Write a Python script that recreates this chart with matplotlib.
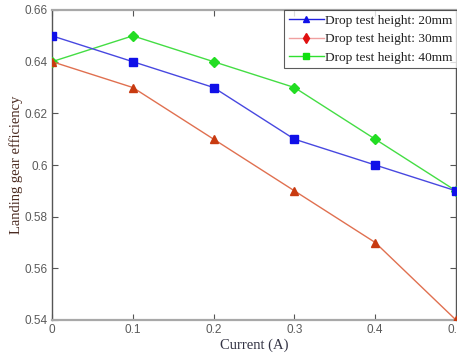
import matplotlib
matplotlib.use("Agg")
import matplotlib.pyplot as plt
from matplotlib.lines import Line2D

current = [0, 0.1, 0.2, 0.3, 0.4, 0.5]
eff_20mm = [0.65, 0.64, 0.63, 0.61, 0.60, 0.59]
eff_30mm = [0.64, 0.63, 0.61, 0.59, 0.57, 0.54]
eff_40mm = [0.64, 0.65, 0.64, 0.63, 0.61, 0.59]
labels = ["Drop test height: 20mm", "Drop test height: 30mm", "Drop test height: 40mm"]
xticks = [0, 0.1, 0.2, 0.3, 0.4, 0.5]
yticks = [0.54, 0.56, 0.58, 0.6, 0.62, 0.64, 0.66]

fig = plt.figure(figsize=(4.57, 3.57), dpi=100)
ax = fig.add_axes([52/457, 37/357, (456-52)/457, (320-10)/357])

ax.plot(current, eff_40mm, color="#44dd44", lw=1.0, marker="D", ms=5,
        mfc="#22dd22", mec="#22dd22", zorder=3)
ax.plot(current, eff_30mm, color="#e07050", lw=1.0, marker="^", ms=6,
        mfc="#c83a10", mec="#c83a10", zorder=3)
ax.plot(current, eff_20mm, color="#4848e0", lw=1.0, marker="s", ms=6,
        mfc="#1010e8", mec="#1010e8", zorder=4)

ax.set_xlim(0, 0.5)
ax.set_ylim(0.54, 0.66)
ax.set_xticks(xticks)
ax.set_xticklabels(["0", "0.1", "0.2", "0.3", "0.4", "0.5"])
ax.set_yticks(yticks)
ax.set_yticklabels(["0.54", "0.56", "0.58", "0.6", "0.62", "0.64", "0.66"])
ax.tick_params(direction="in", length=4, width=0.8, color="#555555",
               top=True, right=True, labelsize=8.5, labelcolor="#5a5a5a", pad=3)
for lab in ax.get_xticklabels() + ax.get_yticklabels():
    lab.set_family("Liberation Sans")

for s in ["top", "bottom"]:
    ax.spines[s].set_color("#a8a8a8")
    ax.spines[s].set_linewidth(1.6)
for s in ["left", "right"]:
    ax.spines[s].set_color("#555555")
    ax.spines[s].set_linewidth(1.0)

ax.set_xlabel("Current (A)", family="Liberation Serif", fontsize=10.5,
              color="#333344", labelpad=2)
ax.set_ylabel("Landing gear efficiency", family="Liberation Serif", fontsize=10.5,
              color="#4a2a20", labelpad=1)

handles = [
    Line2D([], [], color="#2020e0", lw=1.0, marker="^", ms=5, mfc="#1010e8", mec="#1010e8"),
    Line2D([], [], color="#f0a0a0", lw=1.0, marker="d", ms=5, mfc="#e01010", mec="#e01010"),
    Line2D([], [], color="#30e030", lw=1.0, marker="s", ms=5, mfc="#10e010", mec="#10e010"),
]
leg = ax.legend(handles, labels, loc="upper right", bbox_to_anchor=(1.003, 1.0),
                prop={"family": "Liberation Serif", "size": 9.6},
                frameon=True, fancybox=False, edgecolor="#333333",
                handlelength=2.6, handletextpad=0.1, borderpad=0.35,
                labelspacing=0.45, borderaxespad=0.0)
leg.get_frame().set_linewidth(0.8)
for t in leg.get_texts():
    t.set_color("#222222")

fig.savefig("out.png", dpi=100)
